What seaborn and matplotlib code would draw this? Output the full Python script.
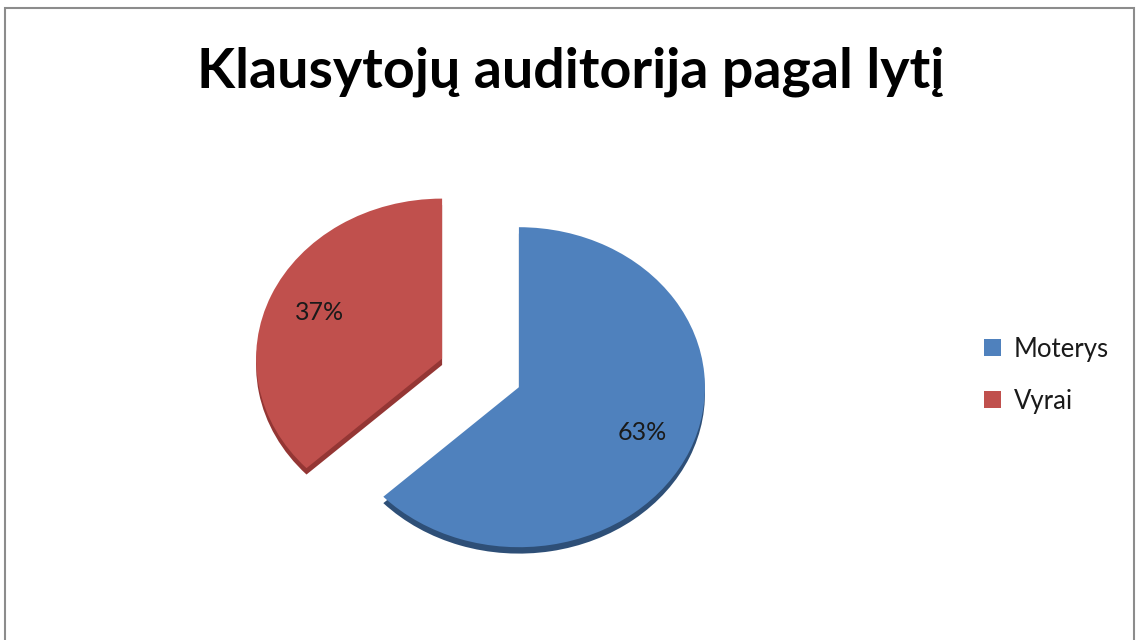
import matplotlib
matplotlib.use("Agg")
import matplotlib.pyplot as plt
import seaborn as sns
from matplotlib.patches import Rectangle

title = "Klausytojų auditorija pagal lytį"
labels = ["Moterys", "Vyrai"]
shares = [63, 37]
colors = ["#4F81BD", "#C0504D"]
shade_colors = ["#2E4F77", "#943634"]
explode = [0.0, 0.45]

sns.set_style("white")
plt.rcParams["font.family"] = ["Lato", "DejaVu Sans"]

fig = plt.figure(figsize=(11.37, 6.4), dpi=100)
ax = fig.add_axes([0.211, 0.02, 0.4908, 0.75])

# darker copy underneath, shifted down a little, for the 3D depth
ax.pie(shares, colors=shade_colors, explode=explode, startangle=90,
       counterclock=False, center=(0, -0.04),
       wedgeprops=dict(linewidth=0))
wedges, _, autotexts = ax.pie(
    shares, colors=colors, explode=explode, startangle=90,
    counterclock=False, autopct="%d%%", pctdistance=0.72,
    wedgeprops=dict(linewidth=0),
    textprops=dict(fontsize=18, color="#1a1a1a"))
ax.set_aspect("auto")
ax.set_xlim(-1.5, 1.5)
ax.set_ylim(-1.5, 1.5)
ax.axis("off")

fig.text(0.502, 0.888, title, ha="center", va="center",
         fontsize=40, fontweight="bold", color="black")

fig.legend(wedges, labels, loc="center left", bbox_to_anchor=(0.845, 0.414),
           frameon=False, fontsize=18.5, handlelength=0.65, handleheight=0.65,
           handletextpad=0.5, labelspacing=1.05, labelcolor="#1a1a1a")

fig.patches.append(Rectangle((0.004, -0.01), 0.993, 0.997, transform=fig.transFigure,
                             fill=False, edgecolor="#8c8c8c", linewidth=1.5))

fig.savefig("out.png", dpi=100)
